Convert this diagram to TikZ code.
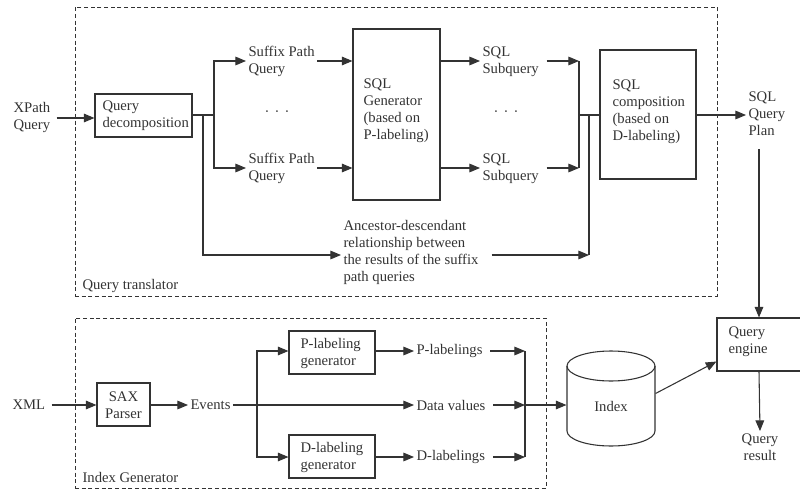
\documentclass[tikz,border=0pt]{standalone}
\usepackage{fontspec}
\setmainfont{Liberation Serif}
\usetikzlibrary{arrows.meta,fit,calc}
\definecolor{ink}{HTML}{333333}
\begin{document}
\begin{tikzpicture}[x=0.75pt,y=-0.75pt,
  line width=0.8pt, draw=ink,
  arr/.style={-{Triangle[length=8pt,width=6.5pt]}},
  txt/.style={inner sep=1.5pt, align=left, text=ink, font=\fontsize{11}{12.75}\selectfont},
  box/.style={draw=ink, inner sep=0pt},
  dbox/.style={draw=ink, dash pattern=on 3pt off 2pt, inner sep=0pt, line width=0.7pt}]
\useasboundingbox (0,0) rectangle (800,489);
\begin{scope}
\clip (0,0) rectangle (800,489);
% dashed groups
\node[dbox, fit={(75,7)(717,296)}] (qtr) {};
\node[dbox, fit={(75,318)(546,488)}] (igen) {};
\node[txt, anchor=west] (qtl) at (80,286) {Query translator};
\node[txt, anchor=west] (igl) at (80,477) {Index Generator};

% ---------------- Query translator ----------------
\node[txt, anchor=west] (xpath) at (11,117) {XPath\\Query};
\node[box, fit={(95,94)(192,137)}] (qd) {};
\node[txt, anchor=west] (qdt) at (100,116) {Query\\decomposition};
\node[txt, anchor=west] (sp1) at (246,61) {Suffix Path\\Query};
\node[txt, anchor=west] (sp2) at (246,168) {Suffix Path\\Query};
\node[txt] (dots1) at (277,114) {·\hspace{0.35em}·\hspace{0.35em}·};
\node[box, fit={(353,29)(440,200)}] (gen) {};
\node[txt, anchor=west] (gent) at (361,111) {SQL\\Generator\\(based on\\P-labeling)};
\node[txt, anchor=west] (sq1) at (480,62) {SQL\\Subquery};
\node[txt, anchor=west] (sq2) at (480,169) {SQL\\Subquery};
\node[txt] (dots2) at (506,114) {·\hspace{0.35em}·\hspace{0.35em}·};
\node[box, fit={(600,50)(696,179)}] (comp) {};
\node[txt, anchor=west] (compt) at (610,112) {SQL\\composition\\(based on\\D-labeling)};
\node[txt, anchor=west] (plan) at (746,114) {SQL\\Query\\Plan};
\node[txt, anchor=west] (anc) at (341,252) {Ancestor-descendant\\relationship between\\the results of the suffix\\path queries};

\draw[arr, shorten <=3pt] (xpath.east |- 0,118) -- (qd.west |- 0,118);
\coordinate (b1) at (214,115);
\coordinate (b2) at (203,115);
\draw (qd.east |- b1) -- (b1);
\draw[arr] (b1) |- (sp1.west);
\draw[arr] (b1) |- (sp2.west);
\draw[arr] (b2) |- ([yshift=-2.25pt]anc.west);
\draw[arr] (sp1.east) -- (sp1.east -| gen.west);
\draw[arr] (sp2.east) -- (sp2.east -| gen.west);
\draw[arr] (sp1.east -| gen.east) -- (sp1.east -| sq1.west);
\draw[arr] (sp2.east -| gen.east) -- (sp2.east -| sq2.west);
\coordinate (j1) at (579,61);
\coordinate (j2) at (579,168);
\coordinate (j3) at (579,115);
\coordinate (j4) at (589,115);
\coordinate (j5) at (589,255);
\draw[arr, shorten <=4pt] (sq1.east |- j1) -- (j1);
\draw[arr, shorten <=4pt] (sq2.east |- j2) -- (j2);
\draw (j1) -- (j2);
\draw (j3) -- (comp.west |- j3);
\draw (j4) -- (j5);
\draw[arr, shorten <=8pt] (anc.east |- j5) -- (j5);
\draw[arr] (comp.east |- j3) -- (plan.west |- j3);

% ---------------- Index generator ----------------
\node[txt, anchor=west] (xml) at (10,405) {XML};
\node[box, fit={(97,383)(150,426)}] (sax) {};
\node[txt, align=center] (saxt) at (123.5,405) {SAX\\Parser};
\node[txt, anchor=west] (ev) at (188,405) {Events};
\node[box, fit={(289,331)(375,374)}] (pl) {};
\node[txt, anchor=west] (plbt) at (298,353) {P-labeling\\generator};
\node[box, fit={(289,435)(375,478)}] (dl) {};
\node[txt, anchor=west] (dlbt) at (298,457) {D-labeling\\generator};
\node[txt, anchor=west] (plt) at (414,351) {P-labelings};
\node[txt, anchor=west] (dv) at (414,405) {Data values};
\node[txt, anchor=west] (dlt) at (414,457) {D-labelings};

\draw[arr, shorten <=3pt] (xml.east) -- (xml.east -| sax.west);
\draw[arr] (sax.east |- ev.west) -- (ev.west);
\coordinate (e1) at (257,405);
\draw[arr] (ev.east) -- (dv.west);
\draw[arr] (e1) |- (pl.west |- plt.west);
\draw[arr] (e1) |- (dl.west |- dlt.west);
\draw[arr] (pl.east |- plt.west) -- (plt.west);
\draw[arr] (dl.east |- dlt.west) -- (dlt.west);
\coordinate (k1) at (525,351);
\coordinate (k2) at (525,405);
\coordinate (k3) at (525,457);
\draw[arr, shorten <=4pt] (plt.east) -- (k1);
\draw[arr, shorten <=4pt] (dv.east) -- (k2);
\draw[arr, shorten <=4pt] (dlt.east) -- (k3);
\draw (k1) -- (k3);

% index cylinder
\node[inner sep=0pt, fit={(567,351)(655,446)}] (idx) {};
\draw[fill=white] (567,366) -- (567,431) arc[start angle=180, end angle=0, x radius=44, y radius=15] -- (655,366);
\draw (611,366) ellipse [x radius=44, y radius=15];
\node[txt] (idxt) at (611,406) {Index};
\draw[arr] (k2) -- (k2 -| idx.west);

% query engine
\node[draw=ink, inner sep=0pt, fit={(717,318)(801,371)}] (qe) {};
\node[txt, anchor=west] (qet) at (726,342) {Query\\engine};
\node[txt, align=center] (qr) at (760,447) {Query\\result};
\draw[arr, shorten <=8pt] (qe.north |- plan.south) -- (qe.north);
\draw[arr] ($(idx.east)+(0,-5)$) -- ($(qe.south west)+(0,-10)$);
\draw[arr] (qe.south) -- (qr.north);
\end{scope}
\end{tikzpicture}
\end{document}
